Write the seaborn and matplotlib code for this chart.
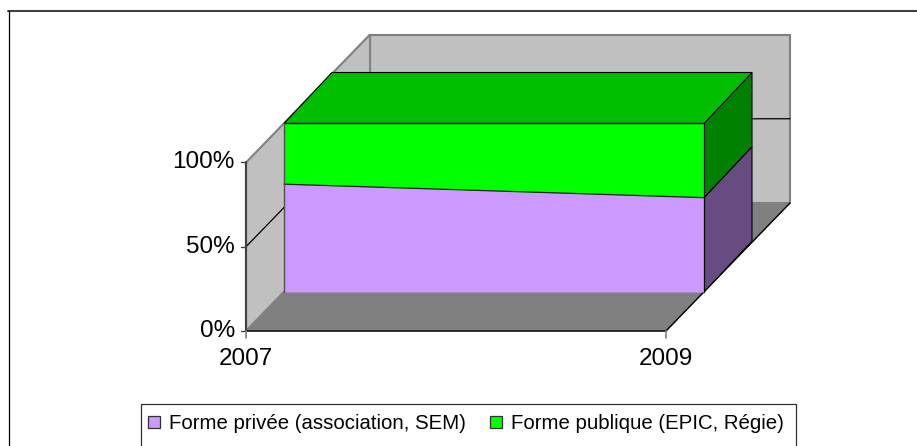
import matplotlib
matplotlib.use("Agg")
import matplotlib.pyplot as plt
from matplotlib.patches import Polygon, Rectangle, Patch
import seaborn as sns

# ======================================================
# DATOS
# ======================================================

annees = [2007, 2009]
forme_privee = [64, 56]
forme_publique = [36, 44]
noms_series = ["Forme privée (association, SEM)", "Forme publique (EPIC, Régie)"]
graduations = [0, 50, 100]

couleur_privee = "#CC99FF"
couleur_publique = "#00FF00"
couleur_mur = "#C0C0C0"
couleur_sol = "#808080"

sns.set_theme(style="white")
plt.rcParams["font.family"] = ["Liberation Sans", "DejaVu Sans"]

L, H = 917, 446
fig = plt.figure(figsize=(L / 100, H / 100), dpi=100)
ax = fig.add_axes([0, 0, 1, 1])

# echelle : 2007 -> x=284 px, 2009 -> x=704 px, 0% -> y=292 px, 100% -> y=123.5 px
px_x = 420 / (annees[1] - annees[0])
px_y = 168.5 / 100
ax.set_xlim(annees[0] - 284 / px_x, annees[0] + (L - 284) / px_x)
ax.set_ylim(-(H - 292) / px_y, 292 / px_y)
ax.axis("off")

# decalages de profondeur, en pixels
AVANT = (-38, -39)
FOND_SERIE = (48, 51)
FOND_MUR = (86, 89)


def proj(x, y, prof=(0, 0)):
    return (x + prof[0] / px_x, y + prof[1] / px_y)


def face(points, couleur, bord, lw=1.0, z=1):
    ax.add_patch(Polygon(points, closed=True, facecolor=couleur, edgecolor=bord,
                         linewidth=lw, zorder=z))


x0, x1 = annees
y_haut = graduations[-1]

# ======================================================
# MURS ET SOL
# ======================================================

face([proj(x0, 0, FOND_MUR), proj(x1, 0, FOND_MUR),
      proj(x1, y_haut, FOND_MUR), proj(x0, y_haut, FOND_MUR)], couleur_mur, couleur_sol, 1.5)
face([proj(x0, 0, AVANT), proj(x0, 0, FOND_MUR),
      proj(x0, y_haut, FOND_MUR), proj(x0, y_haut, AVANT)], couleur_mur, couleur_sol, 1.5)
face([proj(x0, 0, AVANT), proj(x1, 0, AVANT),
      proj(x1, 0, FOND_MUR), proj(x0, 0, FOND_MUR)], couleur_sol, couleur_sol, 0.8)

# quadrillage 50%
g = graduations[1]
ax.plot(*zip(proj(x0, g, AVANT), proj(x0, g, FOND_MUR), proj(x1, g, FOND_MUR)),
        color="black", lw=0.9, zorder=2)

# aretes noires du sol
ax.plot(*zip(proj(x0, 0, AVANT), proj(x1, 0, AVANT), proj(x1, 0, FOND_MUR)),
        color="black", lw=1.0, zorder=2)

# ======================================================
# AXES
# ======================================================

ax.plot(*zip(proj(x0, 0, AVANT), proj(x0, y_haut, AVANT)), color="#404040", lw=1.5, zorder=2)
for g in graduations:
    x, y = proj(x0, g, AVANT)
    ax.plot([x - 5 / px_x, x], [y, y], color="#404040", lw=1.0, zorder=2)
    ax.text(x - 11 / px_x, y, f"{g}%", ha="right", va="center", fontsize=17.5, color="black")

for an in annees:
    x, y = proj(an, 0, AVANT)
    ax.plot([x, x], [y, y - 7 / px_y], color=couleur_sol, lw=1.2, zorder=2)
    ax.text(x, y - 28 / px_y, str(an), ha="center", va="center", fontsize=17.5, color="black")

# ======================================================
# SERIES
# ======================================================

cumul = [a + b for a, b in zip(forme_privee, forme_publique)]

# faces de cote
face([proj(x1, 0), proj(x1, 0, FOND_SERIE), proj(x1, forme_privee[1], FOND_SERIE),
      proj(x1, forme_privee[1])], "#664C80", "black", 0.8, 3)
face([proj(x1, forme_privee[1]), proj(x1, forme_privee[1], FOND_SERIE),
      proj(x1, cumul[1], FOND_SERIE), proj(x1, cumul[1])], "#008000", "black", 0.8, 3)
# dessus
face([proj(x0, cumul[0]), proj(x1, cumul[1]), proj(x1, cumul[1], FOND_SERIE),
      proj(x0, cumul[0], FOND_SERIE)], "#00BF00", "black", 0.8, 3)

# face avant
ax.stackplot(annees, forme_privee, forme_publique,
             colors=[couleur_privee, couleur_publique], linewidth=0, zorder=4)
sns.lineplot(x=annees, y=forme_privee, color="#202020", lw=0.9, zorder=5, ax=ax)
sns.lineplot(x=annees, y=cumul, color="black", lw=1.0, zorder=5, ax=ax)
ax.plot([x0, x0], [0, cumul[0]], color="#505050", lw=1.0, zorder=5)
ax.plot([x1, x1], [0, cumul[1]], color="black", lw=0.9, zorder=5)

# ======================================================
# LEGENDE ET CADRE (coupes par le bas de l'image)
# ======================================================

ax.plot([8 / L, 1], [1 - 11 / H, 1 - 11 / H], transform=ax.transAxes,
        color="#404040", lw=1.5, zorder=0)
ax.plot([8.5 / L, 8.5 / L], [0, 1 - 11 / H], transform=ax.transAxes,
        color="black", lw=0.9, zorder=0)

ax.add_patch(Rectangle((140.5 / L, 1 - 470 / H), 655.5 / L, 66 / H, transform=ax.transAxes,
                       facecolor="white", edgecolor="#303030", linewidth=0.9, zorder=6))

poignees = [Patch(facecolor=couleur_privee, edgecolor="#303030", linewidth=0.9),
            Patch(facecolor=couleur_publique, edgecolor="#303030", linewidth=0.9)]
leg = ax.legend(poignees, noms_series, loc="upper left", bbox_to_anchor=(148 / L, 1 - 414 / H),
                ncol=2, fontsize=14.7, frameon=False,
                handlelength=0.59, handleheight=0.55, handletextpad=0.44, columnspacing=1.2,
                borderpad=0, borderaxespad=0)
leg.set_zorder(7)
for t in leg.get_texts():
    t.set_color("black")

fig.savefig("out.png", dpi=100)
plt.close(fig)
